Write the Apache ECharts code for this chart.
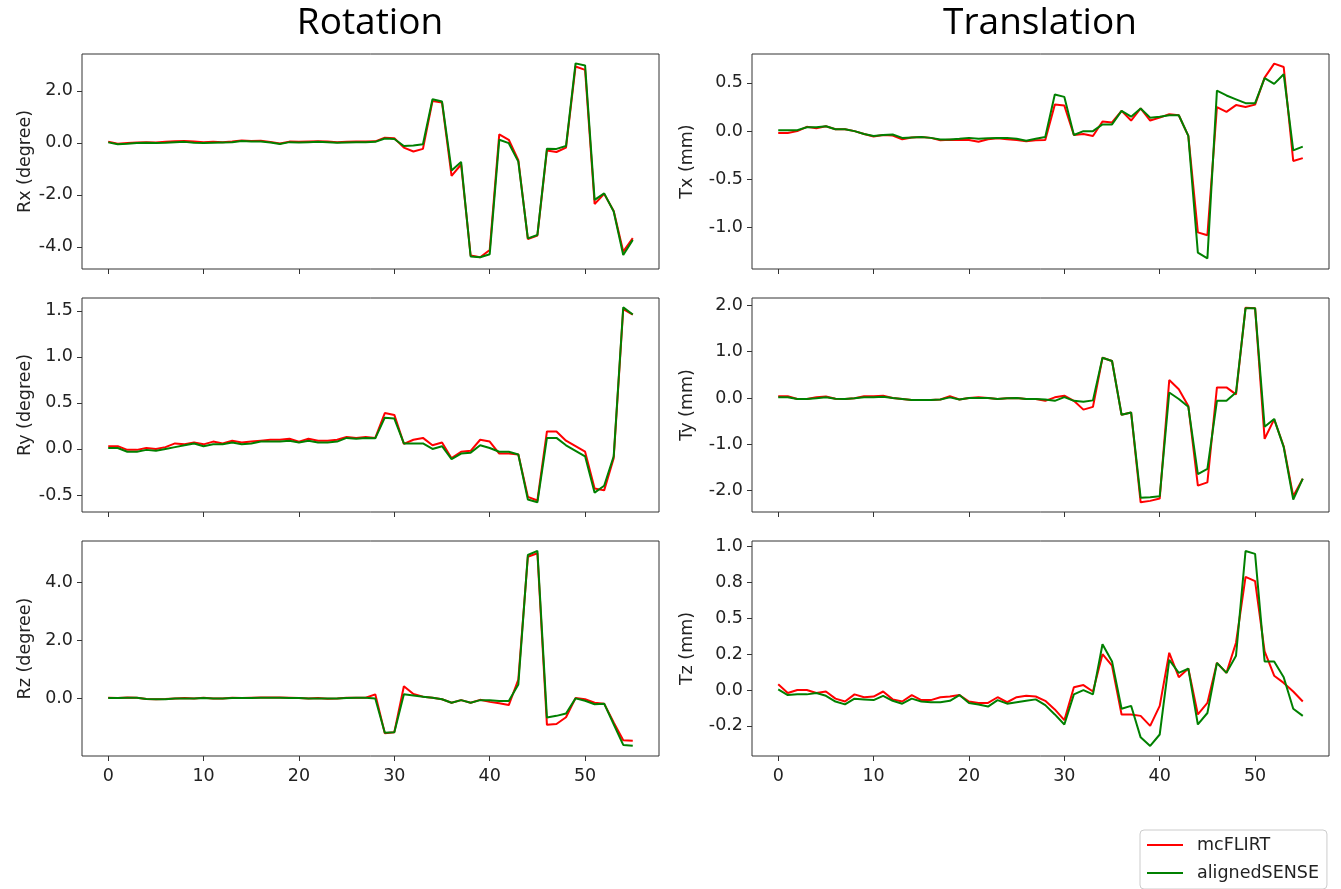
<!DOCTYPE html>
<html>
<head>
<meta charset="utf-8">
<script src="https://cdn.jsdelivr.net/npm/echarts@6/dist/echarts.min.js"></script>
<style>
html, body { margin: 0; padding: 0; background: #fff; }
#main { width: 1341px; height: 889px; }
</style>
</head>
<body>
<div id="main"></div>
<script>
// frame index 0..55
var frames = []
for (var i = 0; i < 56; i++) frames.push(i)

// rotation (degree)
var rxFlirt = [0.05, -0.03, 0.0, 0.02, 0.03, 0.02, 0.04, 0.06, 0.07, 0.05, 0.03, 0.04, 0.03, 0.05, 0.09, 0.07, 0.08, 0.04, -0.02, 0.05, 0.04, 0.05, 0.06, 0.05, 0.03, 0.04, 0.05, 0.05, 0.06,
    0.2, 0.18, -0.18, -0.33, -0.23, 1.61, 1.55, -1.27, -0.83, -4.33, -4.4, -4.12, 0.33, 0.12, -0.66, -3.7, -3.56, -0.29, -0.35, -0.18, 2.94, 2.81, -2.35, -1.96, -2.62, -4.18, -3.66]
var rxSense = [0.02, -0.05, -0.03, 0.0, 0.01, 0.0, 0.01, 0.03, 0.04, 0.01, 0.0, 0.01, 0.02, 0.03, 0.07, 0.05, 0.05, 0.02, -0.04, 0.03, 0.02, 0.03, 0.04, 0.03, 0.01, 0.02, 0.03, 0.03, 0.04,
    0.17, 0.15, -0.12, -0.1, -0.05, 1.68, 1.59, -1.06, -0.73, -4.37, -4.4, -4.28, 0.12, -0.01, -0.72, -3.67, -3.54, -0.22, -0.23, -0.12, 3.06, 2.98, -2.19, -1.94, -2.64, -4.31, -3.73]

var ryFlirt = [0.03, 0.03, -0.01, -0.01, 0.01, 0.0, 0.02, 0.06, 0.05, 0.07, 0.05, 0.08, 0.06, 0.09, 0.07, 0.08, 0.09, 0.1, 0.1, 0.11, 0.08, 0.11, 0.09, 0.09, 0.1,
    0.13, 0.12, 0.13, 0.12, 0.39, 0.37, 0.055, 0.1, 0.12, 0.04, 0.07, -0.1, -0.03, -0.02, 0.1, 0.08, -0.05, -0.05, -0.06, -0.52, -0.56, 0.19, 0.19, 0.09, 0.03, -0.03, -0.43, -0.45, -0.1, 1.52, 1.46]
var rySense = [0.01, 0.01, -0.03, -0.03, -0.01, -0.02, 0.0, 0.02, 0.04, 0.06, 0.03, 0.05, 0.05, 0.07, 0.05, 0.06, 0.08, 0.08, 0.08, 0.09, 0.07, 0.09, 0.07, 0.07, 0.08,
    0.12, 0.11, 0.12, 0.115, 0.34, 0.33, 0.06, 0.06, 0.06, 0.0, 0.03, -0.11, -0.05, -0.04, 0.04, 0.01, -0.03, -0.03, -0.06, -0.55, -0.58, 0.12, 0.12, 0.04, -0.02, -0.08, -0.475, -0.4, -0.08, 1.54, 1.46]

var rzFlirt = [0.02, 0.01, 0.03, 0.02, -0.02, -0.03, -0.02, 0.0, 0.01, 0.0, 0.02, 0.0, 0.0, 0.02, 0.01, 0.02, 0.03, 0.03, 0.03, 0.02,
    0.01, 0.0, 0.01, -0.01, 0.0, 0.02, 0.02, 0.02, 0.14, -1.2, -1.16, 0.42, 0.15, 0.06, 0.02, -0.03, -0.15, -0.06, -0.15, -0.05,
    -0.12, -0.17, -0.23, 0.65, 4.87, 4.99, -0.91, -0.88, -0.65, 0.01, -0.03, -0.15, -0.18, -0.83, -1.44, -1.46]
var rzSense = [0.01, 0.01, 0.02, 0.02, -0.02, -0.03, -0.03, 0.0, 0.0, 0.0, 0.01, 0.0, 0.0, 0.01, 0.01, 0.01, 0.02, 0.02, 0.02, 0.01,
    0.01, 0.0, 0.0, 0.0, 0.0, 0.01, 0.02, 0.02, 0.0, -1.18, -1.16, 0.14, 0.1, 0.06, 0.02, -0.03, -0.15, -0.06, -0.15, -0.06,
    -0.06, -0.09, -0.09, 0.48, 4.93, 5.07, -0.66, -0.6, -0.52, 0.0, -0.08, -0.2, -0.18, -0.89, -1.6, -1.63]

// translation (mm)
var txFlirt = [-0.02, -0.02, 0.0, 0.045, 0.03, 0.05, 0.02, 0.02, 0.0, -0.03, -0.055, -0.04, -0.045, -0.085, -0.065, -0.06, -0.07, -0.095, -0.09, -0.093,
    -0.093, -0.11, -0.085, -0.075, -0.085, -0.093, -0.105, -0.095, -0.093, 0.275, 0.265, -0.04, -0.03, -0.05, 0.1, 0.09, 0.21, 0.11, 0.235, 0.11,
    0.14, 0.175, 0.165, -0.05, -1.05, -1.08, 0.25, 0.2, 0.27, 0.25, 0.275, 0.555, 0.7, 0.665, -0.31, -0.28]
var txSense = [0.01, 0.01, 0.01, 0.04, 0.04, 0.05, 0.02, 0.02, 0.0, -0.03, -0.05, -0.04, -0.035, -0.07, -0.065, -0.06, -0.07, -0.086, -0.086, -0.08,
    -0.07, -0.08, -0.075, -0.07, -0.07, -0.08, -0.1, -0.08, -0.06, 0.38, 0.355, -0.04, 0.0, 0.0, 0.07, 0.07, 0.21, 0.15, 0.235, 0.14,
    0.15, 0.165, 0.165, -0.05, -1.26, -1.32, 0.42, 0.37, 0.33, 0.29, 0.29, 0.55, 0.49, 0.59, -0.2, -0.16]

var tyFlirt = [0.04, 0.04, -0.02, -0.02, 0.015, 0.035, -0.015, -0.02, -0.005, 0.04, 0.04, 0.05, 0.0, -0.02, -0.04, -0.04, -0.04, -0.03, 0.04, -0.03,
    0.0, 0.015, 0.0, -0.02, -0.005, 0.0, -0.02, -0.02, -0.06, 0.015, 0.05, -0.06, -0.25, -0.19, 0.87, 0.8, -0.36, -0.31, -2.25, -2.22,
    -2.17, 0.39, 0.19, -0.17, -1.89, -1.82, 0.23, 0.23, 0.08, 1.95, 1.94, -0.88, -0.46, -1.04, -2.12, -1.74]
var tySense = [0.015, 0.015, -0.02, -0.02, -0.005, 0.015, -0.015, -0.02, -0.005, 0.015, 0.015, 0.03, 0.0, -0.02, -0.04, -0.04, -0.04, -0.03, 0.015, -0.03,
    0.0, 0.0, 0.0, -0.02, -0.005, 0.0, -0.02, -0.02, -0.03, -0.06, 0.02, -0.06, -0.08, -0.05, 0.87, 0.8, -0.36, -0.31, -2.15, -2.14,
    -2.12, 0.12, -0.02, -0.19, -1.64, -1.53, -0.06, -0.06, 0.12, 1.94, 1.94, -0.62, -0.45, -1.06, -2.19, -1.74]

var tzFlirt = [0.04, -0.02, 0.0, 0.0, -0.02, -0.01, -0.06, -0.08, -0.03, -0.05, -0.045, -0.01, -0.065, -0.08, -0.035, -0.07, -0.07, -0.05, -0.045, -0.035,
    -0.08, -0.09, -0.09, -0.05, -0.085, -0.05, -0.04, -0.045, -0.075, -0.135, -0.21, 0.02, 0.035, -0.01, 0.25, 0.17, -0.17, -0.17, -0.18, -0.25,
    -0.11, 0.26, 0.09, 0.15, -0.17, -0.09, 0.19, 0.12, 0.33, 0.79, 0.76, 0.27, 0.1, 0.05, -0.01, -0.08]
var tzSense = [0.005, -0.035, -0.03, -0.03, -0.02, -0.04, -0.08, -0.1, -0.06, -0.065, -0.07, -0.04, -0.075, -0.095, -0.06, -0.08, -0.085, -0.085, -0.075, -0.035,
    -0.09, -0.1, -0.115, -0.07, -0.095, -0.085, -0.075, -0.065, -0.105, -0.17, -0.24, -0.03, 0.0, -0.03, 0.32, 0.2, -0.13, -0.11, -0.33, -0.39,
    -0.31, 0.21, 0.12, 0.15, -0.24, -0.16, 0.19, 0.12, 0.24, 0.97, 0.95, 0.2, 0.2, 0.09, -0.13, -0.18]

// tick values
var xTicks = [0, 10, 20, 30, 40, 50]
var rxTicks = [-4, -2, 0, 2]
var ryTicks = [-0.5, 0, 0.5, 1, 1.5]
var rzTicks = [0, 2, 4]
var txTicks = [-1, -0.5, 0, 0.5]
var tyTicks = [-2, -1, 0, 1, 2]
var tzTicks = [-0.25, 0, 0.25, 0.5, 0.75, 1.0]
var tzTickLabels = ['-0.2', '0.0', '0.2', '0.5', '0.8', '1.0']

var seriesNames = ['mcFLIRT', 'alignedSENSE']
var seriesColors = ['#ff0000', '#008000']

var panels = [
    { label: 'Rx (degree)', data: [rxFlirt, rxSense], ticks: rxTicks, min: -4.85, max: 3.42, col: 0, row: 0 },
    { label: 'Ry (degree)', data: [ryFlirt, rySense], ticks: ryTicks, min: -0.685, max: 1.64, col: 0, row: 1 },
    { label: 'Rz (degree)', data: [rzFlirt, rzSense], ticks: rzTicks, min: -1.98, max: 5.41, col: 0, row: 2 },
    { label: 'Tx (mm)', data: [txFlirt, txSense], ticks: txTicks, min: -1.43, max: 0.80, col: 1, row: 0 },
    { label: 'Ty (mm)', data: [tyFlirt, tySense], ticks: tyTicks, min: -2.46, max: 2.16, col: 1, row: 1 },
    { label: 'Tz (mm)', data: [tzFlirt, tzSense], ticks: tzTicks, min: -0.46, max: 1.04, col: 1, row: 2 }
]

var colLeft = [82, 752]
var colNameGap = [48, 56]
var rowTop = [54, 298, 541]
var rowHeight = [215, 214, 215]
var font = 'DejaVu Sans'
var fontSize = 17.5

var chart = echarts.init(document.getElementById('main'))

function pairs(values) {
    var out = []
    for (var i = 0; i < values.length; i++) {
        out.push([frames[i], values[i]])
    }
    return out
}

var grids = [], xAxes = [], yAxes = [], series = []

panels.forEach(function (p, k) {
    grids.push({
        left: colLeft[p.col], top: rowTop[p.row], width: 577, height: rowHeight[p.row],
        show: true, borderColor: '#333', borderWidth: 1, backgroundColor: 'transparent'
    })
    xAxes.push({
        gridIndex: k, type: 'value', min: -2.75, max: 57.75, position: 'bottom',
        axisLine: { show: false, onZero: false },
        splitLine: { show: false },
        axisTick: { show: true, length: 5, customValues: xTicks, lineStyle: { color: '#333', width: 1 } },
        axisLabel: {
            show: p.row == 2, customValues: xTicks, margin: 11,
            color: '#222', fontSize: fontSize, fontFamily: font
        }
    })
    var isTz = p.label == 'Tz (mm)'
    yAxes.push({
        gridIndex: k, type: 'value', min: p.min, max: p.max, position: 'left',
        name: p.label, nameLocation: 'middle', nameGap: colNameGap[p.col], nameRotate: 90,
        nameTextStyle: { color: '#222', fontSize: fontSize, fontFamily: font },
        axisLine: { show: false, onZero: false },
        splitLine: { show: false },
        axisTick: { show: true, length: 5, customValues: p.ticks, lineStyle: { color: '#333', width: 1 } },
        axisLabel: {
            customValues: p.ticks, margin: 9,
            color: '#222', fontSize: fontSize, fontFamily: font,
            formatter: function (v) {
                if (isTz) return tzTickLabels[tzTicks.indexOf(v)]
                return v.toFixed(1)
            }
        }
    })
    for (var s = 0; s < 2; s++) {
        series.push({
            name: seriesNames[s], type: 'line',
            xAxisIndex: k, yAxisIndex: k,
            data: pairs(p.data[s]),
            showSymbol: false, symbol: 'none',
            lineStyle: { color: seriesColors[s], width: 2 },
            itemStyle: { color: seriesColors[s] },
            z: 2 + s
        })
    }
})

var option = {
    animation: false,
    backgroundColor: '#fff',
    grid: grids,
    xAxis: xAxes,
    yAxis: yAxes,
    series: series,
    legend: {
        data: seriesNames,
        orient: 'vertical',
        left: 1140, top: 830,
        icon: 'rect', itemWidth: 36, itemHeight: 2, itemGap: 10,
        padding: [6, 8, 7, 7],
        borderColor: '#ccc', borderWidth: 1, borderRadius: 4,
        textStyle: { color: '#222', fontSize: fontSize, fontFamily: font, padding: [0, 0, 0, 9] }
    },
    graphic: [
        { type: 'text', x: 370, y: 23, style: { text: 'Rotation', font: '37px "Open Sans"', fill: '#000', textAlign: 'center', textVerticalAlign: 'middle' } },
        { type: 'text', x: 1040, y: 23, style: { text: 'Translation', font: '37px "Open Sans"', fill: '#000', textAlign: 'center', textVerticalAlign: 'middle' } }
    ]
}

chart.setOption(option)
</script>
</body>
</html>
